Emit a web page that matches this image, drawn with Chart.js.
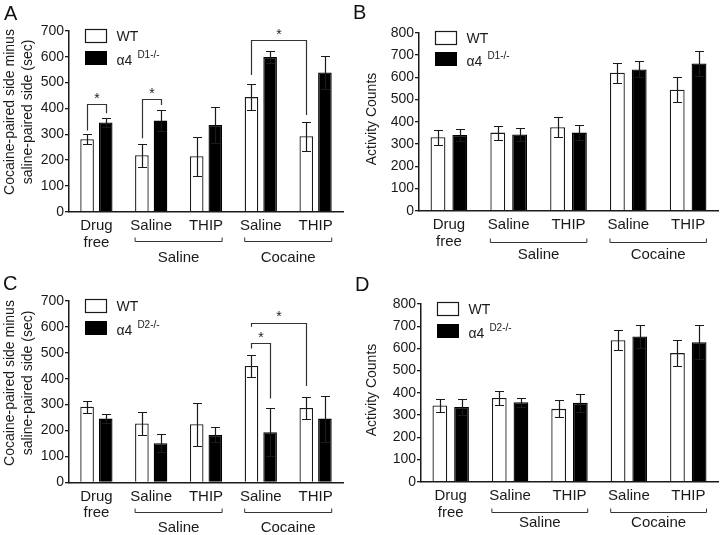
<!DOCTYPE html>
<html lang="en">
<head>
<meta charset="UTF-8">
<title>alpha4 knockout: place preference and activity</title>
<script src="https://cdn.jsdelivr.net/npm/chart.js"></script>
<style>
  body { margin: 0; background: #fff; }
  #fig { position: relative; width: 720px; height: 535px; font-family: "Liberation Sans", Arial, sans-serif; }
  .panel { position: absolute; width: 360px; height: 267px; }
  .letter { position: absolute; font-size: 20px; line-height: 20px; color: #111; }
</style>
</head>
<body>
<div id="fig">
  <div class="panel" style="left:0;top:0"><canvas id="chartA" width="360" height="267"></canvas></div>
  <div class="panel" style="left:360px;top:0"><canvas id="chartB" width="360" height="267"></canvas></div>
  <div class="panel" style="left:0;top:268px"><canvas id="chartC" width="360" height="267"></canvas></div>
  <div class="panel" style="left:360px;top:268px"><canvas id="chartD" width="360" height="267"></canvas></div>
  <div class="letter" style="left:4px;top:3px">A</div>
  <div class="letter" style="left:353px;top:2px">B</div>
  <div class="letter" style="left:3px;top:273px">C</div>
  <div class="letter" style="left:355px;top:274px">D</div>
</div>

<script>
// x categories (pretreatment) and the conditioning drug they belong to
const categories = [['Drug', 'free'], 'Saline', 'THIP', 'Saline', 'THIP'];
const groupNames = ['Saline', 'Cocaine'];
const groupSpans = [[1, 2], [3, 4]];

// A: place preference, alpha4 D1-/-
const cppD1Wt = [281, 219, 215, 444, 292];
const cppD1WtErr = [19, 44, 76, 49, 56];
const cppD1Ko = [346, 353, 336, 599, 539];
const cppD1KoErr = [16, 41, 68, 23, 64];

// B: activity counts, alpha4 D1-/-
const actD1Wt = [330, 351, 375, 620, 544];
const actD1WtErr = [33, 31, 45, 46, 57];
const actD1Ko = [340, 343, 351, 635, 662];
const actD1KoErr = [26, 30, 34, 36, 57];

// C: place preference, alpha4 D2-/-
const cppD2Wt = [292, 227, 224, 449, 287];
const cppD2WtErr = [23, 45, 82, 43, 41];
const cppD2Ko = [246, 151, 183, 193, 246];
const cppD2KoErr = [18, 34, 29, 93, 89];

// D: activity counts, alpha4 D2-/-
const actD2Wt = [343, 377, 328, 637, 579];
const actD2WtErr = [29, 32, 38, 46, 59];
const actD2Ko = [336, 358, 355, 654, 628];
const actD2KoErr = [36, 20, 41, 53, 76];

// significance brackets: [dataset, index] ends, heights in axis units
const sigA = [
  { from: [0, 0], to: [1, 0], top: 416, fromEnd: 315, toEnd: 381, star: 452 },
  { from: [0, 1], to: [1, 1], top: 435, fromEnd: 285, toEnd: 413, star: 471 },
  { from: [0, 3], to: [0, 4], top: 665, fromEnd: 530, toEnd: 375, star: 701 }
];
const sigC = [
  { from: [0, 3], to: [0, 4], top: 616, fromEnd: 601, toEnd: 372, star: 652 },
  { from: [0, 3], to: [1, 3], top: 537, fromEnd: 517, toEnd: 324, star: 571 }
];

const INK = '#1a1a1a';
const FONT = '"Liberation Sans", Arial, sans-serif';
Chart.defaults.font.family = FONT;
Chart.defaults.color = INK;

const extras = {
  id: 'extras',
  afterDatasetsDraw(chart, args, o) {
    const ctx = chart.ctx;
    const y = chart.scales.y;
    const area = chart.chartArea;
    const m0 = chart.getDatasetMeta(0), m1 = chart.getDatasetMeta(1);
    const metas = [m0, m1];
    ctx.save();

    // error bars
    o.errors.forEach((err, d) => {
      const vals = chart.data.datasets[d].data;
      metas[d].data.forEach((bar, i) => {
        const t = Math.round(y.getPixelForValue(vals[i] + err[i])) + 0.5;
        const b = Math.round(y.getPixelForValue(vals[i] - err[i])) + 0.5;
        const x = Math.round(bar.x) + 0.5;
        ctx.strokeStyle = INK;
        ctx.lineWidth = 1.2;
        ctx.beginPath();
        ctx.moveTo(x, t); ctx.lineTo(x, b);
        ctx.moveTo(x - 4.5, t); ctx.lineTo(x + 4.5, t);
        ctx.moveTo(x - 4.5, b); ctx.lineTo(x + 4.5, b);
        ctx.stroke();
      });
    });

    // significance brackets
    ctx.strokeStyle = '#333';
    ctx.lineWidth = 1.2;
    ctx.fillStyle = INK;
    ctx.font = '14px ' + FONT;
    ctx.textAlign = 'center';
    ctx.textBaseline = 'alphabetic';
    (o.sig || []).forEach(s => {
      const x1 = Math.round(metas[s.from[0]].data[s.from[1]].x) + 0.5;
      const x2 = Math.round(metas[s.to[0]].data[s.to[1]].x) + 0.5;
      const yt = Math.round(y.getPixelForValue(s.top)) + 0.5;
      ctx.beginPath();
      ctx.moveTo(x1, y.getPixelForValue(s.fromEnd));
      ctx.lineTo(x1, yt);
      ctx.lineTo(x2, yt);
      ctx.lineTo(x2, y.getPixelForValue(s.toEnd));
      ctx.stroke();
      ctx.fillText('*', (x1 + x2) / 2, y.getPixelForValue(s.star) + 8);
    });

    // group brackets under the x labels
    ctx.strokeStyle = '#333';
    ctx.lineWidth = 1;
    ctx.font = '15px ' + FONT;
    ctx.textBaseline = 'middle';
    groupSpans.forEach((span, g) => {
      const l = m0.data[span[0]].x - m0.data[span[0]].width / 2;
      const r = m1.data[span[1]].x + m1.data[span[1]].width / 2;
      const yl = Math.round(area.bottom + o.bracketY) + 0.5;
      ctx.beginPath();
      ctx.moveTo(l, yl - 4); ctx.lineTo(l, yl); ctx.lineTo(r, yl); ctx.lineTo(r, yl - 4);
      ctx.stroke();
      ctx.fillText(groupNames[g], (l + r) / 2, area.bottom + o.groupY);
    });

    // legend
    const lx = area.left + 16.5;
    const b1 = Math.round(area.top - 2) + 0.5;
    const b2 = Math.round(area.top + 19.5) + 0.5;
    ctx.fillStyle = '#fff';
    ctx.strokeStyle = INK;
    ctx.lineWidth = 1.2;
    ctx.fillRect(lx, b1, 21, 13);
    ctx.strokeRect(lx, b1, 21, 13);
    ctx.fillStyle = '#000';
    ctx.fillRect(lx - 0.5, b2 - 0.5, 22, 14);
    ctx.fillStyle = INK;
    ctx.textAlign = 'left';
    ctx.textBaseline = 'alphabetic';
    ctx.font = '14px ' + FONT;
    ctx.fillText('WT', lx + 31, b1 + 11.5);
    ctx.fillText('\u03b14', lx + 31, b2 + 13);
    const w = ctx.measureText('\u03b14').width;
    ctx.font = '10px ' + FONT;
    ctx.fillText(o.koSup, lx + 31 + w + 5, b2 + 6);

    // y axis title
    ctx.font = '14px ' + FONT;
    ctx.textAlign = 'center';
    ctx.textBaseline = 'middle';
    ctx.translate(o.titleX, o.titleY);
    ctx.rotate(-Math.PI / 2);
    o.title.forEach((line, i) => ctx.fillText(line, 0, i * 18));
    ctx.restore();
  }
};

function makePanel(id, p) {
  const H = 267, W = 360;
  return new Chart(document.getElementById(id), {
    type: 'bar',
    data: {
      labels: categories,
      datasets: [
        { label: 'WT', data: p.wt, backgroundColor: '#fff', borderColor: INK, borderWidth: 1.3,
          categoryPercentage: p.catPct, barPercentage: p.barPct },
        { label: '\u03b14 ' + p.koSup, data: p.ko, backgroundColor: '#000', borderColor: '#000', borderWidth: 1.3,
          categoryPercentage: p.catPct, barPercentage: p.barPct }
      ]
    },
    options: {
      responsive: false,
      animation: false,
      events: [],
      layout: { padding: { top: p.area.top, right: W - p.area.right, left: 0, bottom: 0 } },
      scales: {
        x: {
          grid: { display: false, drawTicks: false },
          border: { display: true, color: INK, width: 1.5 },
          ticks: { color: INK, font: { size: 15, lineHeight: 1.1 }, padding: 6, maxRotation: 0, autoSkip: false },
          afterFit: s => { s.height = H - p.area.bottom; }
        },
        y: {
          min: 0, max: p.max,
          ticks: { stepSize: 100, color: INK, font: { size: 14 }, padding: 1 },
          grid: { drawOnChartArea: false, drawTicks: true, tickLength: 4, color: INK, lineWidth: 1.3 },
          border: { color: INK, width: 1.5 },
          afterFit: s => { s.width = p.area.left; }
        }
      },
      plugins: {
        legend: { display: false },
        tooltip: { enabled: false },
        extras: {
          errors: [p.wtErr, p.koErr], sig: p.sig, koSup: p.koSup,
          title: p.title, titleX: p.titleX, titleY: p.titleY,
          bracketY: p.bracketY, groupY: p.groupY
        }
      }
    },
    plugins: [extras]
  });
}

const cppTitle = ['Cocaine-paired side minus', 'saline-paired side (sec)'];
const actTitle = ['Activity Counts'];

makePanel('chartA', {
  wt: cppD1Wt, wtErr: cppD1WtErr, ko: cppD1Ko, koErr: cppD1KoErr, sig: sigA,
  koSup: 'D1-/-', max: 700, title: cppTitle, titleX: 10, titleY: 112,
  area: { left: 69, right: 343, top: 31, bottom: 211.7 },
  catPct: 0.68, barPct: 0.73, bracketY: 29.3, groupY: 46
});
makePanel('chartB', {
  wt: actD1Wt, wtErr: actD1WtErr, ko: actD1Ko, koErr: actD1KoErr, sig: [],
  koSup: 'D1-/-', max: 800, title: actTitle, titleX: 12, titleY: 119,
  area: { left: 59, right: 358, top: 32.7, bottom: 210.7 },
  catPct: 0.73, barPct: 0.68, bracketY: 31, groupY: 44.5
});
makePanel('chartC', {
  wt: cppD2Wt, wtErr: cppD2WtErr, ko: cppD2Ko, koErr: cppD2KoErr, sig: sigC,
  koSup: 'D2-/-', max: 700, title: cppTitle, titleX: 10, titleY: 115,
  area: { left: 69, right: 343, top: 33, bottom: 214.3 },
  catPct: 0.68, barPct: 0.73, bracketY: 29.7, groupY: 45.7
});
makePanel('chartD', {
  wt: actD2Wt, wtErr: actD2WtErr, ko: actD2Ko, koErr: actD2KoErr, sig: [],
  koSup: 'D2-/-', max: 800, title: actTitle, titleX: 12, titleY: 122,
  area: { left: 61, right: 358, top: 36, bottom: 213.7 },
  catPct: 0.73, barPct: 0.68, bracketY: 30.3, groupY: 41.5
});
</script>
</body>
</html>
